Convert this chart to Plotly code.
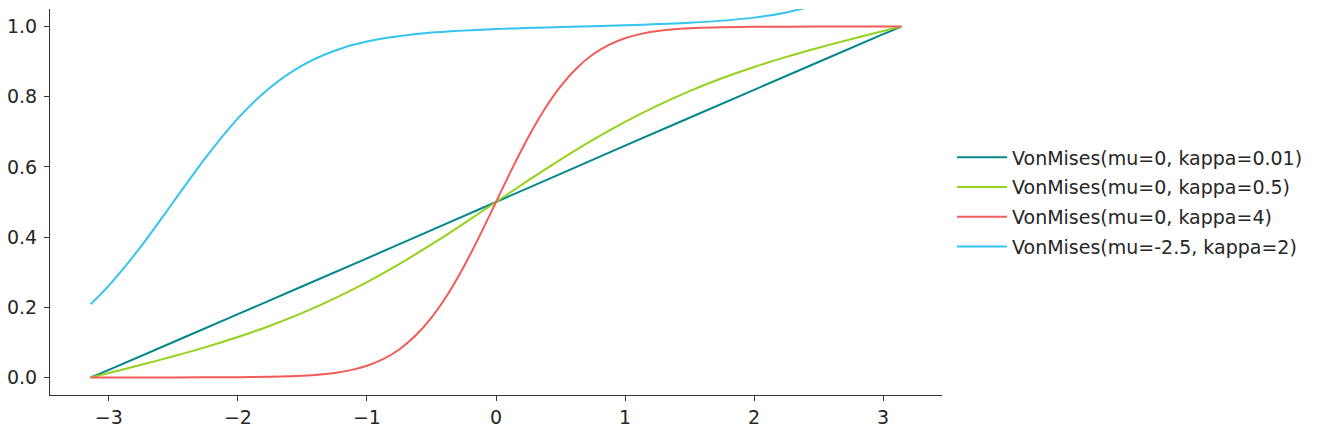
import plotly.graph_objects as go

PI = 3.141592653589793

# Series
x_teal = [-PI, -3.0, -2.0, -1.0, 0.0, 1.0, 2.0, 3.0, PI]
y_teal = [0.0, 0.0217, 0.1803, 0.3395, 0.5, 0.6605, 0.8197, 0.9783, 1.0]

x_green = [-PI, -3.0, -2.75, -2.5, -2.25, -2.0, -1.75, -1.5, -1.25, -1.0, -0.75, -0.5, -0.25,
           0.0, 0.25, 0.5, 0.75, 1.0, 1.25, 1.5, 1.75, 2.0, 2.25, 2.5, 2.75, 3.0, PI]
y_green = [0.0, 0.0129, 0.0360, 0.0602, 0.0864, 0.1152, 0.1474, 0.1839, 0.2251, 0.2715,
           0.3230, 0.3791, 0.4386, 0.5, 0.5614, 0.6209, 0.6770, 0.7285, 0.7749, 0.8161,
           0.8526, 0.8848, 0.9136, 0.9398, 0.9640, 0.9871, 1.0]

x_red = [-PI, -2.5, -2.0, -1.75, -1.5, -1.25, -1.125, -1.0, -0.875, -0.75, -0.625, -0.5,
         -0.375, -0.25, -0.125, 0.0, 0.125, 0.25, 0.375, 0.5, 0.625, 0.75, 0.875, 1.0,
         1.125, 1.25, 1.5, 1.75, 2.0, 2.5, PI]
y_red = [0.0, 0.0000, 0.0009, 0.0020, 0.0050, 0.0129, 0.0209, 0.0333, 0.0521, 0.0798,
         0.1186, 0.1704, 0.2364, 0.3155, 0.4049, 0.5, 0.5951, 0.6845, 0.7636, 0.8296,
         0.8814, 0.9202, 0.9479, 0.9667, 0.9791, 0.9871, 0.9950, 0.9980, 0.9991, 1.0, 1.0]

x_cyan = [-PI, -3.0, -2.75, -2.5, -2.25, -2.0, -1.75, -1.5, -1.25, -1.0, -0.5, 0.0, 0.5,
          1.0, 1.5, 2.0, 2.25, 2.5, 2.75, 3.0, PI]
y_cyan = [0.2085, 0.2618, 0.3736, 0.5, 0.6264, 0.7382, 0.8265, 0.8896, 0.9312, 0.9572,
          0.9827, 0.9930, 0.9986, 1.0035, 1.0105, 1.0254, 1.0402, 1.0646, 1.1038, 1.1637,
          1.2085]

names = ["VonMises(mu=0, kappa=0.01)", "VonMises(mu=0, kappa=0.5)",
         "VonMises(mu=0, kappa=4)", "VonMises(mu=-2.5, kappa=2)"]
colors = ["#00878c", "#94d31c", "#f25c58", "#33c4f2"]

series = [(x_teal, y_teal), (x_green, y_green), (x_red, y_red), (x_cyan, y_cyan)]

fig = go.Figure()
for i, ((xs, ys), name, col) in enumerate(zip(series, names, colors)):
    fig.add_trace(go.Scatter(x=xs, y=ys, mode="lines", name=name, legendgroup=f"g{i}",
                             line=dict(color=col, width=2, shape="spline", smoothing=0.8)))

axis_common = dict(showgrid=False, zeroline=False, showline=True, linecolor="#333333",
                   linewidth=1, ticks="outside", ticklen=5, tickcolor="#333333",
                   automargin=False,
                   tickfont=dict(family="DejaVu Sans", size=19, color="#262626"))

fig.update_layout(
    width=1320, height=434,
    margin=dict(l=50, r=378, t=9, b=39),
    paper_bgcolor="white", plot_bgcolor="white",
    font=dict(family="DejaVu Sans", size=19, color="#262626"),
    xaxis=dict(range=[-3.456, 3.456], tickvals=[-3, -2, -1, 0, 1, 2, 3],
               ticktext=["\u22123", "\u22122", "\u22121", "0", "1", "2", "3"], **axis_common),
    yaxis=dict(range=[-0.05, 1.05], tickvals=[0, 0.2, 0.4, 0.6, 0.8, 1.0],
               ticktext=["0.0", "0.2", "0.4", "0.6", "0.8", "1.0"],
               ticklabelstandoff=3, **axis_common),
    legend=dict(x=1.0112, y=0.5, xanchor="left", yanchor="middle",
                font=dict(family="DejaVu Sans", size=19, color="#262626"),
                bgcolor="rgba(0,0,0,0)", tracegroupgap=2, itemwidth=50),
    showlegend=True,
)

fig.write_html("out.html", config={"displayModeBar": False},
               post_script="document.body.style.margin='0';document.body.style.overflow='hidden';")
